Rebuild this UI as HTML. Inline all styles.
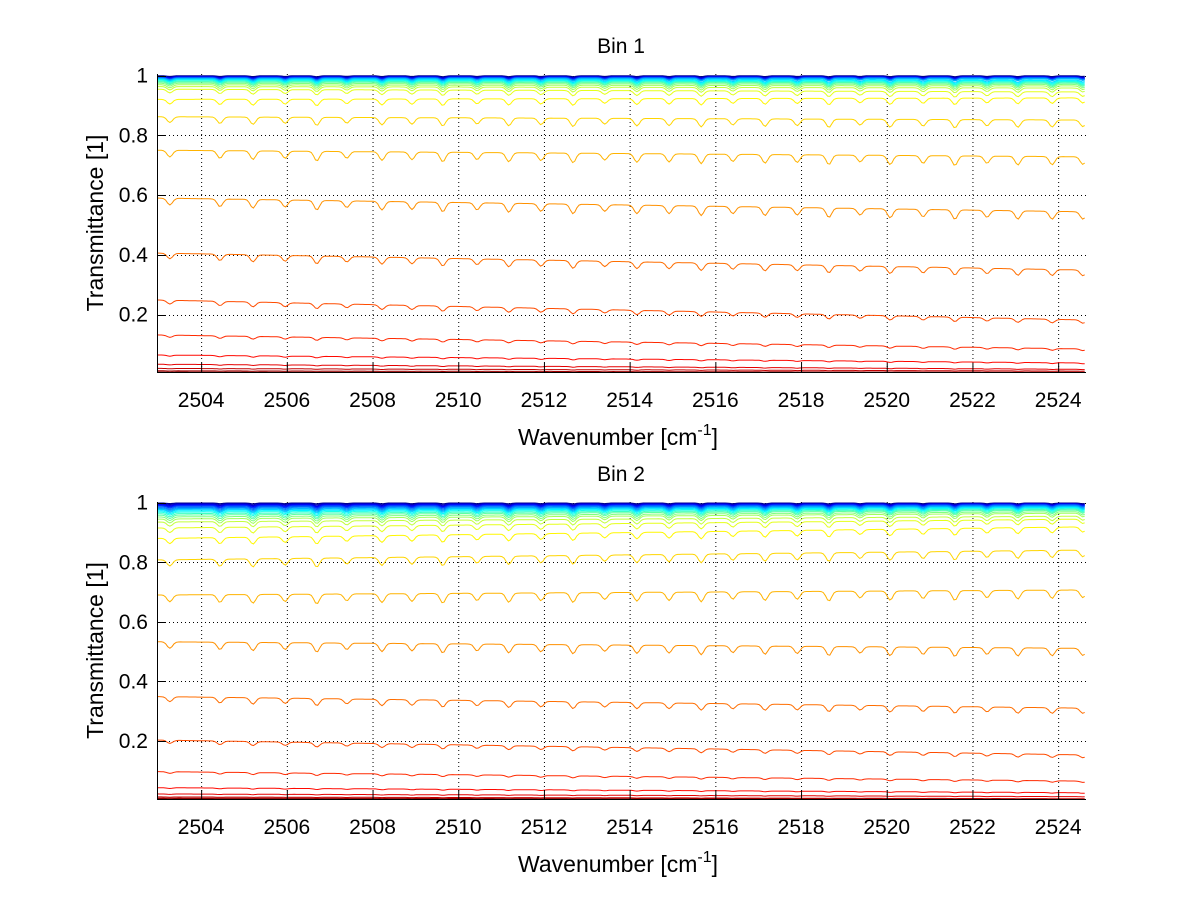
<!DOCTYPE html>
<html><head><meta charset="utf-8"><style>
html,body{margin:0;padding:0;background:#fff;}
svg{display:block;font-family:"Liberation Sans",sans-serif;}
</style></head><body>
<svg id="fig" width="1200" height="901" viewBox="0 0 1200 901" xmlns="http://www.w3.org/2000/svg"></svg>
<script>
// ---- data ----
const xTicks = [2504,2506,2508,2510,2512,2514,2516,2518,2520,2522,2524];
const yTicks = [0.2,0.4,0.6,0.8,1];
const yTickLabels = ["0.2","0.4","0.6","0.8","1"];
const dipPos = [2503.27,2504.44,2505.21,2505.96,2506.70,2507.40,2508.22,2508.92,2509.64,2510.44,2511.18,2511.93,2512.68,2513.42,2514.17,2514.92,2515.67,2516.41,2517.16,2517.91,2518.65,2519.38,2520.08,2520.85,2521.59,2522.34,2523.06,2523.86,2524.58];
const dipDepth = [0.7,0.8,0.9,0.75,1.0,0.7,0.9,0.8,1.0,0.75,0.95,0.8,1.0,0.7,0.9,0.85,1.0,0.75,0.9,0.8,1.0,0.7,0.95,0.8,1.0,0.75,0.9,0.85,0.8];
const bin1Start = [0.999,0.998,0.997,0.996,0.995,0.994,0.993,0.992,0.991,0.99,0.988,0.986,0.984,0.981,0.978,0.974,0.969,0.963,0.954,0.92,0.862,0.75,0.59,0.406,0.249,0.132,0.065,0.034,0.02,0.012,0.008];
const bin1End   = [0.999,0.998,0.997,0.996,0.995,0.994,0.993,0.992,0.991,0.99,0.986,0.983,0.98,0.977,0.974,0.97,0.965,0.958,0.945,0.925,0.851,0.728,0.544,0.349,0.182,0.085,0.038,0.017,0.011,0.007,0.004];
const bin2Start = [0.999,0.998,0.996,0.994,0.992,0.99,0.988,0.985,0.982,0.979,0.976,0.972,0.968,0.963,0.958,0.952,0.945,0.935,0.915,0.88,0.808,0.69,0.533,0.349,0.203,0.097,0.043,0.022,0.012,0.008,0.005];
const bin2End   = [0.999,0.998,0.997,0.996,0.995,0.994,0.993,0.992,0.99,0.988,0.986,0.984,0.981,0.978,0.975,0.97,0.965,0.955,0.945,0.919,0.841,0.707,0.511,0.31,0.153,0.065,0.026,0.013,0.006,0.004,0.003];
const xMin = 2502.97, xMax = 2524.65;

const NS = "http://www.w3.org/2000/svg";
const svg = document.getElementById('fig');
function mk(tag, attrs, parent){
  const e = document.createElementNS(NS, tag);
  for (const k in attrs) e.setAttribute(k, attrs[k]);
  (parent||svg).appendChild(e);
  return e;
}
function jet(t){
  const c = v => Math.max(0, Math.min(1, v));
  const r = c(1.5 - Math.abs(4*t-3)), g = c(1.5 - Math.abs(4*t-2)), b = c(1.5 - Math.abs(4*t-1));
  return `rgb(${Math.round(r*255)},${Math.round(g*255)},${Math.round(b*255)})`;
}
function dipProfile(x){
  let s = 0;
  for (let j=0;j<dipPos.length;j++){
    const d = (x-dipPos[j])/0.09;
    s += dipDepth[j]*Math.exp(-d*d);
  }
  return s;
}

function drawPanel(idx, title, top, bottom, yAt1, pxPerUnit, startVals, endVals){
  const L = 157, R = 1086;
  const sx = v => L + (v - xMin)/(xMax - xMin)*(R - L);
  const sy = v => yAt1 + (1 - v)*pxPerUnit;
  const g = mk('g', {});
  
  
  const cid = 'clip' + idx;
  const cp = mk('clipPath', {id: cid}, g);
  mk('rect', {x: L, y: top-3, width: R-L+2, height: bottom-top+3}, cp);

  const grid = mk('g', {stroke:'#000','stroke-width':1,'stroke-dasharray':'1,3'}, g);
  
  
  xTicks.forEach(t => mk('line', {x1:sx(t)+0.5, x2:sx(t)+0.5, y1:top, y2:bottom}, grid));
  yTicks.forEach(t => mk('line', {x1:L, x2:R, y1:Math.round(sy(t))+0.5, y2:Math.round(sy(t))+0.5}, grid));

  const lines = mk('g', {'clip-path':`url(#${cid})`, fill:'none', 'stroke-width':1}, g);
  const N = startVals.length;
  for (let i=0;i<N;i++){
    let d = '';
    for (let x=xMin; x<=xMax+0.001; x+=0.05){
      const f = (x - xMin)/(xMax - xMin);
      const B = startVals[i] + (endVals[i]-startVals[i])*f;
      const frac = 0.085*Math.sqrt(Math.max(0,1-B));
      const T = B*(1 - frac*Math.min(1.2,dipProfile(x)));
      d += (d ? 'L' : 'M') + sx(x).toFixed(1) + ',' + sy(T).toFixed(1);
    }
    const p = mk('path', {d: d, stroke: jet(i/(N-1))}, lines);
    
    
  }

  const ax = mk('g', {stroke:'#000','stroke-width':1}, g);
  
  
  mk('line', {x1:L+0.5, x2:L+0.5, y1:top, y2:bottom}, ax);
  mk('line', {x1:L, x2:R, y1:bottom+0.5, y2:bottom+0.5}, ax);
  xTicks.forEach(t => mk('line', {x1:sx(t)+0.5, x2:sx(t)+0.5, y1:bottom, y2:bottom-9}, ax));
  yTicks.forEach(t => mk('line', {x1:L, x2:L+9, y1:Math.round(sy(t))+0.5, y2:Math.round(sy(t))+0.5}, ax));

  xTicks.forEach(t => {
    const tx = mk('text', {x:sx(t), y:bottom+35, 'text-anchor':'middle', 'font-size':21, fill:'#000'}, g);
    tx.textContent = String(t);
    
    
  });
  yTicks.forEach((t,k) => {
    const tx = mk('text', {x:L-9, y:sy(t)+7, 'text-anchor':'end', 'font-size':21, fill:'#000'}, g);
    tx.textContent = yTickLabels[k];
    
    
  });
  const ttl = mk('text', {x:621, y:top-21, 'text-anchor':'middle', 'font-size':21, fill:'#000'}, g);
  ttl.textContent = title;
  
  

  const xl = mk('text', {x:618, y:bottom+73, 'text-anchor':'middle', 'font-size':23, fill:'#000'}, g);
  
  
  xl.innerHTML = 'Wavenumber [cm<tspan dy="-10" font-size="16">-1</tspan><tspan dy="10">]</tspan>';

  const cy = (top+bottom)/2;
  const yl = mk('text', {x:0, y:0, transform:`translate(103,${cy}) rotate(-90)`, 'text-anchor':'middle', 'font-size':23, fill:'#000'}, g);
  yl.textContent = 'Transmittance [1]';
  
  
}

drawPanel(1, 'Bin 1', 74, 372, 75.5, 298.9, bin1Start, bin1End);
drawPanel(2, 'Bin 2', 502, 799, 502.7, 297.8, bin2Start, bin2End);
</script>
</body></html>
